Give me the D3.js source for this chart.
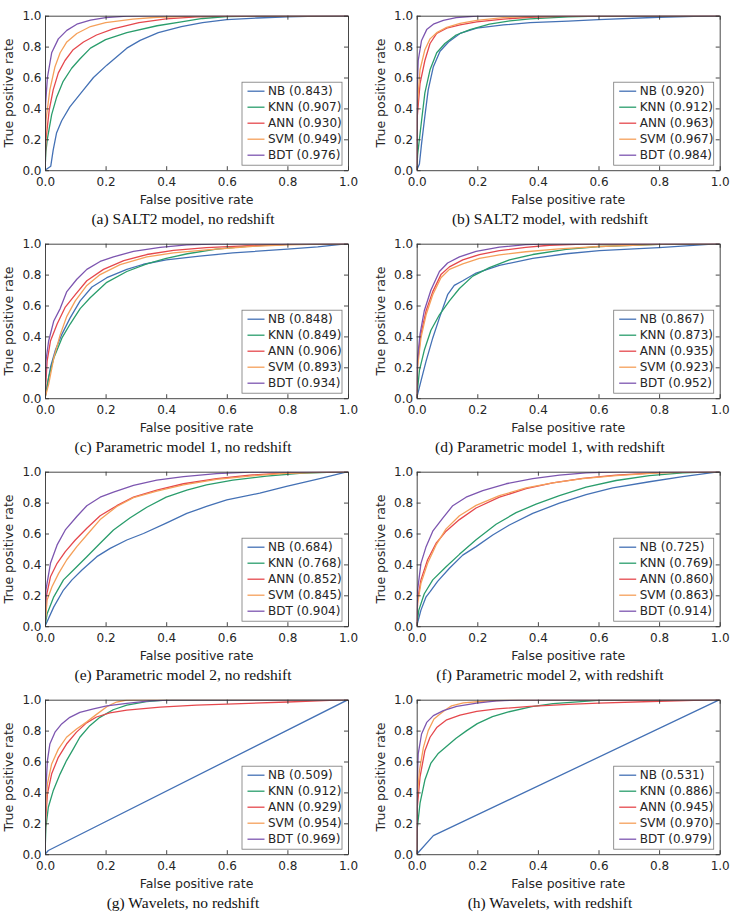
<!DOCTYPE html>
<html>
<head>
<meta charset="utf-8" />
<title>ROC curves</title>
<script src="https://d3js.org/d3.v7.min.js"></script>
<style>
html, body { margin: 0; padding: 0; background: #fff; }
svg { display: block; }
.tick text { fill: #262626; }
</style>
</head>
<body>
<svg id="fig" width="733" height="912"></svg>
<script>
// ---- data ------------------------------------------------------------
const methods = ['NB', 'KNN', 'ANN', 'SVM', 'BDT'];
const colors = ['#4471b5', '#2a9d6c', '#e5484d', '#f5a05a', '#7d56b0'];
const captions = [
    '(a) SALT2 model, no redshift',
    '(b) SALT2 model, with redshift',
    '(c) Parametric model 1, no redshift',
    '(d) Parametric model 1, with redshift',
    '(e) Parametric model 2, no redshift',
    '(f) Parametric model 2, with redshift',
    '(g) Wavelets, no redshift',
    '(h) Wavelets, with redshift'
];
const ticks = [0, 0.2, 0.4, 0.6, 0.8, 1.0];

const aucA = [0.843, 0.907, 0.930, 0.949, 0.976];
const aucB = [0.920, 0.912, 0.963, 0.967, 0.984];
const aucC = [0.848, 0.849, 0.906, 0.893, 0.934];
const aucD = [0.867, 0.873, 0.935, 0.923, 0.952];
const aucE = [0.684, 0.768, 0.852, 0.845, 0.904];
const aucF = [0.725, 0.769, 0.860, 0.863, 0.914];
const aucG = [0.509, 0.912, 0.929, 0.954, 0.969];
const aucH = [0.531, 0.886, 0.945, 0.970, 0.979];

// roc curves, [fpr, tpr], one list per method in the order above
const rocA = [
    [[0,0],[0.019,0.026],[0.027,0.13],[0.038,0.24],[0.055,0.32],[0.082,0.41],[0.127,0.52],[0.16,0.6],[0.204,0.68],[0.27,0.79],[0.314,0.84],[0.374,0.89],[0.45,0.93],[0.52,0.955],[0.6,0.975],[0.7,0.985],[0.8,0.992],[0.9,0.997],[1,1]],
    [[0,0],[0.003,0.12],[0.008,0.205],[0.022,0.36],[0.038,0.47],[0.06,0.575],[0.088,0.66],[0.115,0.72],[0.15,0.79],[0.2,0.845],[0.27,0.89],[0.37,0.935],[0.45,0.96],[0.52,0.982],[0.6,0.994],[0.7,0.998],[1,1]],
    [[0,0],[0.003,0.195],[0.014,0.39],[0.027,0.52],[0.044,0.63],[0.066,0.71],[0.093,0.78],[0.127,0.83],[0.17,0.875],[0.225,0.915],[0.31,0.955],[0.4,0.98],[0.5,0.992],[0.6,0.997],[1,1]],
    [[0,0],[0.003,0.32],[0.016,0.52],[0.033,0.67],[0.05,0.76],[0.072,0.83],[0.105,0.885],[0.15,0.93],[0.2,0.955],[0.29,0.978],[0.37,0.99],[0.5,0.997],[1,1]],
    [[0,0],[0.002,0.43],[0.008,0.6],[0.022,0.76],[0.044,0.85],[0.072,0.905],[0.105,0.945],[0.15,0.972],[0.2,0.988],[0.27,0.997],[0.4,1],[1,1]]
];
const rocB = [
    [[0,0],[0.009,0.04],[0.016,0.17],[0.027,0.35],[0.038,0.52],[0.055,0.67],[0.077,0.77],[0.105,0.83],[0.143,0.885],[0.198,0.92],[0.286,0.94],[0.374,0.955],[0.5,0.965],[0.6,0.975],[0.8,0.99],[1,1]],
    [[0,0],[0.003,0.1],[0.016,0.32],[0.027,0.5],[0.044,0.65],[0.066,0.76],[0.093,0.82],[0.13,0.875],[0.176,0.91],[0.24,0.945],[0.308,0.967],[0.374,0.98],[0.5,0.993],[0.6,0.998],[1,1]],
    [[0,0],[0.002,0.35],[0.011,0.56],[0.027,0.71],[0.044,0.82],[0.066,0.885],[0.099,0.92],[0.143,0.94],[0.198,0.96],[0.286,0.978],[0.374,0.99],[0.5,0.997],[1,1]],
    [[0,0],[0.001,0.39],[0.011,0.65],[0.027,0.78],[0.044,0.85],[0.066,0.89],[0.099,0.925],[0.143,0.95],[0.198,0.97],[0.286,0.988],[0.4,0.997],[1,1]],
    [[0,0],[0.001,0.5],[0.005,0.71],[0.016,0.84],[0.033,0.91],[0.055,0.945],[0.088,0.97],[0.13,0.988],[0.198,0.998],[0.3,1],[1,1]]
];
const rocC = [
    [[0,0],[0.018,0.2],[0.034,0.31],[0.056,0.415],[0.083,0.52],[0.116,0.63],[0.155,0.72],[0.204,0.78],[0.27,0.834],[0.325,0.867],[0.4,0.895],[0.51,0.92],[0.62,0.94],[0.8,0.965],[0.9,0.98],[1,1]],
    [[0,0],[0.012,0.135],[0.029,0.26],[0.056,0.39],[0.083,0.48],[0.116,0.58],[0.149,0.65],[0.204,0.75],[0.27,0.82],[0.336,0.87],[0.4,0.905],[0.47,0.935],[0.566,0.965],[0.676,0.985],[0.8,0.995],[1,1]],
    [[0,0],[0.007,0.24],[0.018,0.37],[0.04,0.48],[0.067,0.59],[0.1,0.67],[0.138,0.76],[0.193,0.834],[0.26,0.89],[0.336,0.93],[0.424,0.957],[0.533,0.975],[0.676,0.988],[0.8,0.995],[1,1]],
    [[0,0],[0.012,0.09],[0.029,0.26],[0.05,0.41],[0.072,0.53],[0.1,0.63],[0.138,0.73],[0.182,0.8],[0.248,0.865],[0.336,0.915],[0.424,0.94],[0.533,0.96],[0.676,0.982],[0.8,0.993],[1,1]],
    [[0,0],[0.003,0.24],[0.012,0.37],[0.029,0.5],[0.05,0.58],[0.072,0.69],[0.105,0.77],[0.138,0.834],[0.182,0.885],[0.226,0.915],[0.292,0.95],[0.38,0.976],[0.468,0.993],[0.57,0.999],[1,1]]
];
const rocD = [
    [[0,0],[0.014,0.11],[0.031,0.24],[0.053,0.39],[0.075,0.52],[0.102,0.67],[0.124,0.73],[0.152,0.76],[0.196,0.81],[0.273,0.86],[0.383,0.905],[0.493,0.935],[0.603,0.955],[0.8,0.975],[1,1]],
    [[0,0],[0.009,0.18],[0.025,0.31],[0.047,0.44],[0.075,0.54],[0.108,0.63],[0.141,0.71],[0.185,0.79],[0.24,0.845],[0.306,0.895],[0.383,0.93],[0.493,0.963],[0.603,0.982],[0.8,0.995],[1,1]],
    [[0,0],[0.003,0.24],[0.014,0.415],[0.031,0.566],[0.053,0.69],[0.08,0.8],[0.108,0.85],[0.152,0.895],[0.207,0.93],[0.273,0.955],[0.36,0.976],[0.438,0.99],[0.548,0.997],[1,1]],
    [[0,0],[0.003,0.2],[0.014,0.39],[0.031,0.54],[0.053,0.67],[0.08,0.78],[0.108,0.834],[0.152,0.87],[0.207,0.905],[0.273,0.928],[0.36,0.948],[0.47,0.967],[0.603,0.982],[0.8,0.995],[1,1]],
    [[0,0],[0.002,0.24],[0.011,0.415],[0.025,0.566],[0.047,0.7],[0.075,0.82],[0.102,0.875],[0.141,0.915],[0.196,0.95],[0.273,0.978],[0.36,0.994],[0.438,0.999],[1,1]]
];
const rocE = [
    [[0,0],[0.029,0.125],[0.061,0.234],[0.089,0.3],[0.122,0.364],[0.171,0.45],[0.215,0.504],[0.27,0.558],[0.325,0.6],[0.4,0.667],[0.468,0.73],[0.533,0.775],[0.6,0.818],[0.709,0.861],[0.797,0.905],[0.907,0.955],[1,1]],
    [[0,0],[0.007,0.08],[0.029,0.19],[0.061,0.3],[0.094,0.364],[0.138,0.45],[0.182,0.537],[0.226,0.623],[0.28,0.7],[0.336,0.77],[0.4,0.835],[0.468,0.88],[0.533,0.915],[0.62,0.945],[0.731,0.972],[0.84,0.99],[1,1]],
    [[0,0],[0.004,0.19],[0.018,0.32],[0.04,0.407],[0.067,0.483],[0.1,0.558],[0.138,0.634],[0.182,0.715],[0.237,0.78],[0.292,0.835],[0.369,0.88],[0.457,0.922],[0.566,0.955],[0.676,0.978],[0.797,0.993],[1,1]],
    [[0,0],[0.007,0.17],[0.023,0.255],[0.045,0.342],[0.072,0.43],[0.105,0.515],[0.138,0.59],[0.182,0.69],[0.237,0.775],[0.292,0.832],[0.369,0.875],[0.457,0.915],[0.566,0.95],[0.676,0.972],[0.797,0.99],[1,1]],
    [[0,0],[0.003,0.234],[0.018,0.407],[0.04,0.526],[0.067,0.623],[0.105,0.71],[0.138,0.78],[0.182,0.835],[0.226,0.868],[0.292,0.912],[0.369,0.945],[0.457,0.968],[0.566,0.988],[0.676,0.997],[1,1]]
];
const rocF = [
    [[0,0],[0.014,0.104],[0.031,0.19],[0.045,0.225],[0.069,0.29],[0.108,0.375],[0.152,0.46],[0.196,0.515],[0.251,0.59],[0.306,0.655],[0.383,0.73],[0.471,0.797],[0.559,0.851],[0.647,0.895],[0.768,0.935],[0.878,0.968],[1,1]],
    [[0,0],[0.007,0.104],[0.025,0.21],[0.053,0.3],[0.097,0.385],[0.141,0.465],[0.196,0.56],[0.262,0.66],[0.328,0.735],[0.394,0.79],[0.471,0.845],[0.559,0.9],[0.658,0.943],[0.768,0.975],[0.878,0.993],[1,1]],
    [[0,0],[0.003,0.17],[0.014,0.3],[0.036,0.43],[0.064,0.537],[0.097,0.615],[0.141,0.69],[0.196,0.765],[0.273,0.835],[0.361,0.89],[0.449,0.928],[0.548,0.957],[0.658,0.978],[0.8,0.994],[1,1]],
    [[0,0],[0.003,0.147],[0.014,0.277],[0.036,0.407],[0.064,0.526],[0.097,0.63],[0.141,0.715],[0.196,0.782],[0.273,0.845],[0.361,0.895],[0.449,0.928],[0.548,0.955],[0.658,0.975],[0.8,0.992],[1,1]],
    [[0,0],[0.003,0.234],[0.014,0.407],[0.031,0.515],[0.053,0.615],[0.086,0.7],[0.119,0.78],[0.163,0.835],[0.218,0.878],[0.295,0.922],[0.383,0.955],[0.471,0.978],[0.559,0.993],[0.66,0.999],[1,1]]
];
const rocG = [
    [[0,0],[0.011,0.024],[1,1]],
    [[0,0],[0.003,0.175],[0.011,0.304],[0.027,0.41],[0.05,0.52],[0.071,0.606],[0.093,0.68],[0.115,0.757],[0.148,0.832],[0.181,0.886],[0.225,0.935],[0.27,0.965],[0.335,0.988],[0.4,0.998],[1,1]],
    [[0,0],[0.002,0.218],[0.008,0.39],[0.022,0.52],[0.044,0.627],[0.071,0.713],[0.104,0.79],[0.137,0.85],[0.17,0.888],[0.214,0.915],[0.27,0.932],[0.38,0.952],[0.5,0.965],[0.6,0.972],[0.8,0.985],[0.9,0.992],[1,1]],
    [[0,0],[0.002,0.28],[0.008,0.455],[0.022,0.584],[0.044,0.68],[0.071,0.757],[0.104,0.81],[0.137,0.855],[0.17,0.905],[0.204,0.955],[0.236,0.985],[0.27,0.998],[0.35,1],[1,1]],
    [[0,0],[0.002,0.39],[0.008,0.606],[0.016,0.713],[0.033,0.79],[0.055,0.843],[0.082,0.886],[0.115,0.918],[0.16,0.94],[0.204,0.96],[0.27,0.976],[0.346,0.992],[0.42,0.999],[1,1]]
];
const rocH = [
    [[0,0],[0.055,0.12],[1,1]],
    [[0,0],[0.002,0.17],[0.011,0.33],[0.027,0.48],[0.047,0.59],[0.07,0.65],[0.1,0.7],[0.13,0.75],[0.165,0.8],[0.2,0.845],[0.25,0.89],[0.3,0.92],[0.38,0.955],[0.45,0.975],[0.6,0.995],[1,1]],
    [[0,0],[0.002,0.304],[0.011,0.5],[0.027,0.67],[0.044,0.757],[0.066,0.82],[0.099,0.87],[0.143,0.9],[0.198,0.925],[0.264,0.94],[0.374,0.957],[0.5,0.97],[0.6,0.978],[0.8,0.99],[1,1]],
    [[0,0],[0.001,0.347],[0.009,0.54],[0.022,0.69],[0.038,0.8],[0.057,0.875],[0.077,0.907],[0.099,0.94],[0.115,0.96],[0.154,0.98],[0.22,0.99],[0.308,0.998],[1,1]],
    [[0,0],[0.001,0.433],[0.005,0.649],[0.016,0.778],[0.033,0.853],[0.055,0.897],[0.088,0.929],[0.132,0.957],[0.198,0.978],[0.264,0.992],[0.341,0.999],[1,1]]
];

// ---- layout ----------------------------------------------------------
const colX = [45, 416.7];
const rowY = [15.7, 243.7, 471.7, 699.7];
const pw = 303, ph = 154.5;
const colCenter = [183, 550];

const panels = [
    { roc: rocA, auc: aucA }, { roc: rocB, auc: aucB },
    { roc: rocC, auc: aucC }, { roc: rocD, auc: aucD },
    { roc: rocE, auc: aucE }, { roc: rocF, auc: aucF },
    { roc: rocG, auc: aucG }, { roc: rocH, auc: aucH }
];

const svg = d3.select('#fig');
const x = d3.scaleLinear().domain([0, 1]).range([0, pw]);
const y = d3.scaleLinear().domain([0, 1]).range([ph, 0]);
const line = d3.line().x(d => x(d[0])).y(d => y(d[1]));
const fmt = d3.format('.1f');

panels.forEach((p, i) => {
    const col = i % 2, row = Math.floor(i / 2);
    const g = svg.append('g').attr('transform', 'translate(' + colX[col] + ',' + rowY[row] + ')');

    g.append('clipPath').attr('id', 'clip' + i)
        .append('rect').attr('width', pw).attr('height', ph);

    // curves
    g.append('g').attr('clip-path', 'url(#clip' + i + ')')
        .selectAll('path').data(p.roc).enter()
        .append('path')
        .attr('d', line)
        .attr('fill', 'none')
        .attr('stroke', (d, k) => colors[k])
        .attr('stroke-width', 1.3)
        .attr('stroke-linejoin', 'round');

    // axes, ticks pointing in on all four sides
    const axB = g.append('g').attr('transform', 'translate(0,' + ph + ')')
        .call(d3.axisBottom(x).tickValues(ticks).tickFormat(fmt).tickSizeInner(-4).tickSizeOuter(0).tickPadding(7));
    const axL = g.append('g')
        .call(d3.axisLeft(y).tickValues(ticks).tickFormat(fmt).tickSizeInner(-4).tickSizeOuter(0).tickPadding(3.5));
    g.append('g')
        .call(d3.axisTop(x).tickValues(ticks).tickFormat('').tickSizeInner(-4).tickSizeOuter(0));
    g.append('g').attr('transform', 'translate(' + pw + ',0)')
        .call(d3.axisRight(y).tickValues(ticks).tickFormat('').tickSizeInner(-4).tickSizeOuter(0));
    g.selectAll('.domain, .tick line').attr('stroke', '#333').attr('stroke-width', 0.9);
    [axB, axL].forEach(a => a.attr('font-family', 'DejaVu Sans').attr('font-size', 12));

    // axis labels
    g.append('text')
        .attr('x', pw / 2).attr('y', ph + 34)
        .attr('text-anchor', 'middle')
        .attr('font-family', 'DejaVu Sans').attr('font-size', 12.5).attr('fill', '#262626')
        .text('False positive rate');
    g.append('text')
        .attr('transform', 'translate(' + (-32) + ',' + (ph / 2) + ') rotate(-90)')
        .attr('text-anchor', 'middle')
        .attr('font-family', 'DejaVu Sans').attr('font-size', 12.5).attr('fill', '#262626')
        .text('True positive rate');

    // legend
    const lw = 100, lh = 83;
    const leg = g.append('g').attr('transform', 'translate(' + (pw - 6 - lw) + ',' + (ph - 5 - lh) + ')');
    leg.append('rect').attr('width', lw).attr('height', lh)
        .attr('fill', '#fff').attr('stroke', '#777').attr('stroke-width', 0.8);
    methods.forEach((m, k) => {
        const ly = 9 + k * 16;
        leg.append('line').attr('x1', 5.5).attr('x2', 22.5).attr('y1', ly).attr('y2', ly)
            .attr('stroke', colors[k]).attr('stroke-width', 1.3);
        leg.append('text').attr('x', 26).attr('y', ly + 4.3)
            .attr('font-family', 'DejaVu Sans').attr('font-size', 12).attr('fill', '#262626')
            .text(m + ' (' + p.auc[k].toFixed(3) + ')');
    });

    // caption
    svg.append('text')
        .attr('x', colCenter[col]).attr('y', rowY[row] + ph + 53.5)
        .attr('text-anchor', 'middle')
        .attr('font-family', 'Liberation Serif').attr('font-size', 15.5).attr('fill', '#111')
        .text(captions[i]);
});
</script>
</body>
</html>
